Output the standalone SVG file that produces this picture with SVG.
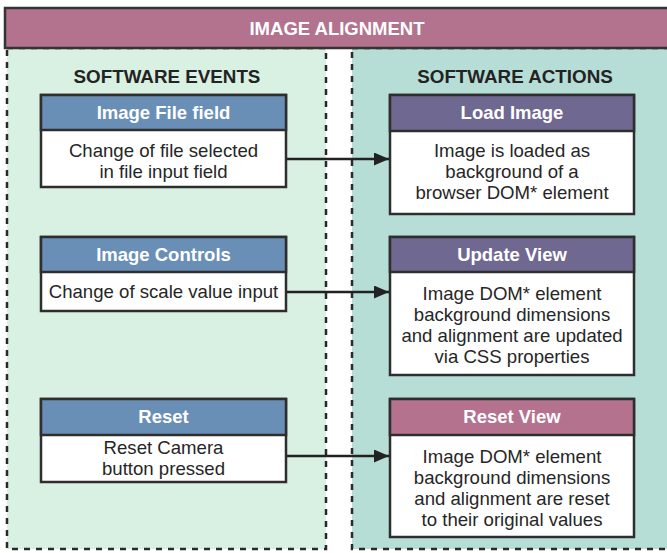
<svg xmlns="http://www.w3.org/2000/svg" width="667" height="553" viewBox="0 0 667 553">
  <style>
    .panel-border { fill: none; stroke: #2a2a2a; stroke-width: 2.5; stroke-dasharray: 6 6; }
    .box { fill: #ffffff; stroke: #2e2e2e; stroke-width: 2.5; }
    .hdr { stroke: #2e2e2e; stroke-width: 2.5; }
    .blue { fill: #6a8fb6; }
    .purple { fill: #6f6890; }
    .mauve { fill: #b5728f; }
    .htext { font-family: "Liberation Sans", Arial, sans-serif; font-weight: bold; font-size: 18.5px; fill: #ffffff; text-anchor: middle; }
    .btext { font-family: "Liberation Sans", Arial, sans-serif; font-size: 18.6px; fill: #262626; text-anchor: middle; }
    .ptitle { font-family: "Liberation Sans", Arial, sans-serif; font-weight: bold; font-size: 18.8px; fill: #232323; text-anchor: middle; }
    .conn { stroke: #222222; stroke-width: 2.3; fill: none; }
  </style>
  <defs>
    <marker id="arrow" viewBox="0 0 15 13" refX="15" refY="6.5" markerWidth="15" markerHeight="13" markerUnits="userSpaceOnUse" orient="auto">
      <path d="M0,0 L15,6.5 L0,13 Z" fill="#222222"/>
    </marker>
  </defs>

  <rect x="0" y="0" width="667" height="553" fill="#ffffff"/>

  <!-- column panels -->
  <g id="events-panel">
    <rect x="7" y="48" width="319" height="501" fill="#d9f1e2"/>
    <rect x="7" y="48" width="319" height="501" class="panel-border"/>
    <text x="167" y="83" class="ptitle">SOFTWARE EVENTS</text>
  </g>
  <g id="actions-panel">
    <rect x="352" y="48" width="320" height="501" fill="#b7ded6"/>
    <rect x="352" y="48" width="320" height="501" class="panel-border"/>
    <text x="515" y="83" class="ptitle">SOFTWARE ACTIONS</text>
  </g>

  <!-- title bar -->
  <g id="title">
    <rect x="5" y="8" width="670" height="40" fill="#b3738e" stroke="#333333" stroke-width="2.5"/>
    <text x="337" y="35" class="htext">IMAGE ALIGNMENT</text>
  </g>

  <!-- events -->
  <g id="image-file-field">
    <rect x="41" y="95" width="245" height="92" class="box"/>
    <rect x="41" y="95" width="245" height="35" class="hdr blue"/>
    <text x="163.5" y="119" class="htext">Image File field</text>
    <text x="163.5" y="157" class="btext">Change of file selected</text>
    <text x="163.5" y="178" class="btext">in file input field</text>
  </g>
  <g id="image-controls">
    <rect x="41" y="237" width="245" height="74" class="box"/>
    <rect x="41" y="237" width="245" height="35" class="hdr blue"/>
    <text x="163.5" y="261" class="htext">Image Controls</text>
    <text x="163.5" y="298" class="btext">Change of scale value input</text>
  </g>
  <g id="reset">
    <rect x="41" y="399" width="245" height="83" class="box"/>
    <rect x="41" y="399" width="245" height="36" class="hdr blue"/>
    <text x="163.5" y="423" class="htext">Reset</text>
    <text x="163.5" y="454" class="btext">Reset Camera</text>
    <text x="163.5" y="475" class="btext">button pressed</text>
  </g>

  <!-- actions -->
  <g id="load-image">
    <rect x="390" y="95" width="244" height="119" class="box"/>
    <rect x="390" y="95" width="244" height="36" class="hdr purple"/>
    <text x="512" y="119" class="htext">Load Image</text>
    <text x="512" y="157" class="btext">Image is loaded as</text>
    <text x="512" y="178" class="btext">background of a</text>
    <text x="512" y="199" class="btext">browser DOM* element</text>
  </g>
  <g id="update-view">
    <rect x="390" y="237" width="244" height="138" class="box"/>
    <rect x="390" y="237" width="244" height="35" class="hdr purple"/>
    <text x="512" y="261" class="htext">Update View</text>
    <text x="512" y="300" class="btext">Image DOM* element</text>
    <text x="512" y="321" class="btext">background dimensions</text>
    <text x="512" y="342" class="btext">and alignment are updated</text>
    <text x="512" y="363" class="btext">via CSS properties</text>
  </g>
  <g id="reset-view">
    <rect x="390" y="399" width="244" height="138" class="box"/>
    <rect x="390" y="399" width="244" height="36" class="hdr mauve"/>
    <text x="512" y="423" class="htext">Reset View</text>
    <text x="512" y="463" class="btext">Image DOM* element</text>
    <text x="512" y="484" class="btext">background dimensions</text>
    <text x="512" y="505" class="btext">and alignment are reset</text>
    <text x="512" y="526" class="btext">to their original values</text>
  </g>

  <!-- connectors -->
  <g id="connectors">
    <line x1="287" y1="159" x2="389" y2="159" class="conn" marker-end="url(#arrow)"/>
    <line x1="287" y1="292" x2="389" y2="292" class="conn" marker-end="url(#arrow)"/>
    <line x1="287" y1="456" x2="389" y2="456" class="conn" marker-end="url(#arrow)"/>
  </g>
</svg>
